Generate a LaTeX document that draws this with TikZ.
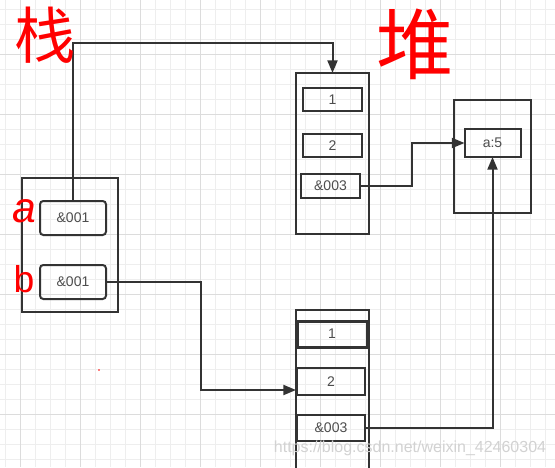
\documentclass[tikz,border=0pt]{standalone}
\usepackage{fontspec}
\setmainfont{Liberation Sans}
\newfontfamily\cjk{Noto Sans CJK SC}
\usetikzlibrary{arrows.meta}
\definecolor{ink}{HTML}{333333}
\definecolor{txt}{HTML}{4D4D4D}
\definecolor{gminor}{HTML}{EEEEEE}
\definecolor{gmajor}{HTML}{DCDCDC}
\definecolor{handred}{HTML}{FF0000}
\begin{document}
\begin{tikzpicture}[x=0.75pt,y=-0.75pt,
  sz/.style 2 args={minimum width=#1*0.75pt,minimum height=#2*0.75pt},
  frame/.style={draw=ink,line width=1.5pt,inner sep=0pt,outer sep=0pt},
  cell/.style={frame,text=txt,font=\fontsize{10.5}{12}\selectfont},
  refcell/.style={cell,rounded corners=2.5pt},
  link/.style={draw=ink,line width=1.5pt},
  arrowlink/.style={link,-{Triangle[length=9.5pt,width=7.5pt]}},
  hand/.style={text=handred,inner sep=0pt}]
\useasboundingbox (0,0) rectangle (555,467);
\clip (0,0) rectangle (555,467);
\fill[white] (0,0) rectangle (555,467);
\foreach \x in {5.7,20.7,...,560} \draw[gminor,line width=0.75pt] (\x,0) -- (\x,467);
\foreach \y in {9.3,24.3,...,470} \draw[gminor,line width=0.75pt] (0,\y) -- (555,\y);
\foreach \x in {20.7,80.7,...,560} \draw[gmajor,line width=0.75pt] (\x,0) -- (\x,467);
\foreach \y in {54.3,114.3,...,470} \draw[gmajor,line width=0.75pt] (0,\y) -- (555,\y);

\node[frame,sz={96}{134}] (stack) at (70,245) {};
\node[refcell,sz={66}{34}] (a) at (73,218) {\&001};
\node[refcell,sz={66}{34}] (b) at (73,282) {\&001};

\node[frame,sz={73}{161}] (arr1) at (332.5,153.5) {};
\node[cell,sz={59}{23}] (a1) at (332.5,99.5) {1};
\node[cell,sz={59}{23}] (a2) at (332.5,145.5) {2};
\node[cell,sz={59}{24}] (a3) at (330.5,186) {\&003};

\node[frame,sz={77}{113}] (objbox) at (492.5,156.5) {};
\node[cell,sz={56}{28}] (obj) at (492.5,143) {a:5};

\node[frame,sz={73}{160}] (arr2) at (332.5,390) {};
\node[cell,line width=2.25pt,sz={70}{26}] (b1) at (332,334) {1};
\node[cell,sz={68}{27}] (b2) at (331,381.5) {2};
\node[cell,sz={68}{26}] (b3) at (331,428) {\&003};

\coordinate (top) at (0,43);
\coordinate (m1) at (412,0);
\coordinate (m2) at (201,0);
\draw[arrowlink] (a.north) -- (a.north |- top) -| (arr1.north);
\draw[arrowlink] (a3.east) -- (a3.east -| m1) |- (obj.west);
\draw[arrowlink] (b.east) -- (b.east -| m2) |- (arr2.west);
\draw[arrowlink] (b3.east) -| (obj.south);

\node[hand,font=\cjk\fontsize{46}{46}\selectfont] (zhan) at (45,35) {栈};
\node[hand,font=\cjk\fontsize{58}{58}\selectfont] (dui) at (415,44) {堆};
\node[hand,font=\fontsize{32}{32}\selectfont\itshape] (la) at (24,211) {a};
\node[hand,font=\fontsize{28}{28}\selectfont] (lb) at (24,279) {b};
\fill[handred] (99,370) circle (0.8);

\node[text=gray!35,font=\fontsize{12}{14}\selectfont] (wm) at (410,448) {https://blog.csdn.net/weixin\_42460304};
\end{tikzpicture}
\end{document}
